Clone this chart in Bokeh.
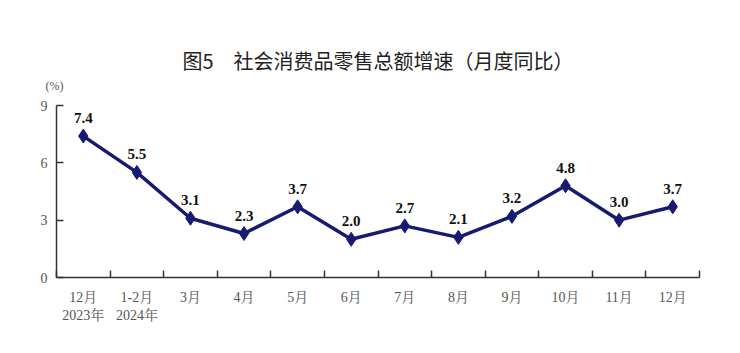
from bokeh.plotting import figure
from bokeh.models import ColumnDataSource, FixedTicker, LabelSet, Title, Range1d
from bokeh.embed import file_html
from bokeh.resources import INLINE

categories = ["12月\n2023年", "1-2月\n2024年", "3月", "4月", "5月", "6月", "7月", "8月", "9月", "10月", "11月", "12月"]
values = [7.4, 5.5, 3.1, 2.3, 3.7, 2.0, 2.7, 2.1, 3.2, 4.8, 3.0, 3.7]
y_ticks = [0, 3, 6, 9]
title_text = "图5　社会消费品零售总额增速（月度同比）"
unit_text = "(%)"

xs = list(range(len(categories)))
src = ColumnDataSource(dict(x=xs, y=values, lab=[f"{v:.1f}" for v in values]))

NAVY = "#161a72"
SERIF = "'Liberation Serif', 'Noto Serif CJK SC', 'Noto Sans CJK SC', serif"

p = figure(width=740, height=353, output_backend="svg", toolbar_location=None,
           x_range=Range1d(-0.5, len(categories) - 0.5), y_range=Range1d(0, max(y_ticks)),
           min_border_left=56, min_border_right=41, min_border_top=105, min_border_bottom=76)
p.outline_line_color = None
p.xgrid.visible = False
p.ygrid.visible = False
p.background_fill_color = "white"
p.border_fill_color = "white"

# unit label just above the frame, main title above it
unit = Title(text=unit_text, align="left", offset=-11, standoff=25, text_font=SERIF,
             text_font_size="12px", text_font_style="normal", text_color="#555555")
p.add_layout(unit, "above")
p.title.text = title_text
p.title.align = "center"
p.title.standoff = -21
p.title.text_font = "Noto Sans CJK SC"
p.title.text_font_size = "20px"
p.title.text_font_style = "normal"
p.title.text_color = "#222222"

p.line("x", "y", source=src, line_color=NAVY, line_width=3.5)
p.scatter("x", "y", source=src, marker="diamond", size=14, fill_color=NAVY, line_color=NAVY)

labels = LabelSet(x="x", y="y", text="lab", source=src, text_align="center", text_baseline="bottom",
                  y_offset=13, text_font=SERIF, text_font_size="15px", text_font_style="bold",
                  text_color="#111111")
p.add_layout(labels)

xa = p.xaxis[0]
xa.ticker = FixedTicker(ticks=xs, minor_ticks=[i - 0.5 for i in range(len(categories) + 1)])
xa.major_label_overrides = {i: c for i, c in enumerate(categories)}
xa.major_tick_in = 0
xa.major_tick_out = 0
xa.minor_tick_in = 7
xa.minor_tick_out = 0
xa.minor_tick_line_color = "#333333"
xa.minor_tick_line_width = 1.5
xa.axis_line_color = "#333333"
xa.axis_line_width = 1.5
xa.major_label_text_font = SERIF
xa.major_label_text_font_size = "14px"
xa.major_label_text_color = "#555555"
xa.major_label_standoff = 12

ya = p.yaxis[0]
ya.ticker = FixedTicker(ticks=y_ticks)
ya.minor_tick_line_color = None
ya.major_tick_in = 7
ya.major_tick_out = 0
ya.major_tick_line_color = "#333333"
ya.major_tick_line_width = 1.5
ya.axis_line_color = "#333333"
ya.axis_line_width = 1.5
ya.major_label_text_font = SERIF
ya.major_label_text_font_size = "14px"
ya.major_label_text_color = "#555555"
ya.major_label_standoff = 9

open("out.html", "w").write(file_html(p, INLINE))
